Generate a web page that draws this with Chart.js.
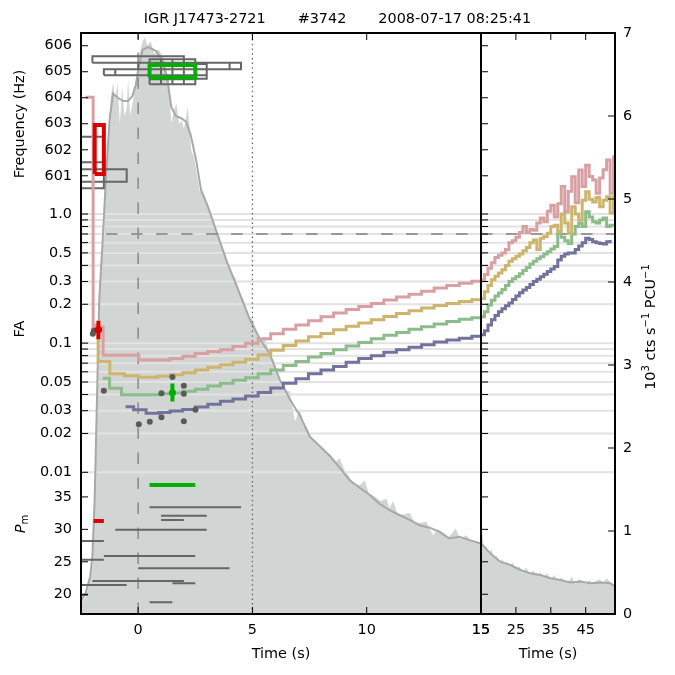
<!DOCTYPE html>
<html>
<head>
<style>
  body { margin: 0; background: #fff; }
  #wrap { width: 675px; height: 675px; }
</style>
</head>
<body>
<div id="wrap"><canvas id="chart" width="675" height="675"></canvas></div>
<script src="https://cdn.jsdelivr.net/npm/chart.js"></script>
<script>
// ---- axis ticks ----
const timeTicks = [0, 5, 10, 15];
const lateTimeTicks = [15, 25, 35, 45];
const freqTicks = [601, 602, 603, 604, 605, 606];
const faTickValues = [0.01, 0.02, 0.03, 0.05, 0.1, 0.2, 0.3, 0.5, 1.0];
const faTickLabels = ['0.01', '0.02', '0.03', '0.05', '0.1', '0.2', '0.3', '0.5', '1.0'];
const faGridValues = [0.01, 0.02, 0.03, 0.04, 0.05, 0.06, 0.07, 0.08, 0.09,
                      0.1, 0.2, 0.3, 0.4, 0.5, 0.6, 0.7, 0.8, 0.9, 1.0];
const pmTicks = [20, 25, 30, 35];
const rateTicks = [0, 1, 2, 3, 4, 5, 6, 7];

// ---- light curve (10^3 cts/s/PCU), raw and smoothed ----
const lcTime = [-2.5,-2.3,-2.15,-2.0,-1.9,-1.8,-1.72,-1.6,-1.48,-1.38,-1.3,-1.2,-1.1,-1.0,-0.9,-0.8,-0.7,-0.6,-0.5,-0.44,
  -0.35,-0.25,-0.15,-0.05,0.07,0.2,0.3,0.4,0.55,0.7,0.9,1.1,1.25,1.34,1.45,1.55,1.67,1.8,1.89,2.0,
  2.18,2.32,2.45,2.54,2.69,2.85,3.0,3.2,3.35,3.5,3.65,3.8,3.95,4.1,4.25,4.45,4.6,4.8,5.0,5.2,
  5.4,5.55,5.75,5.95,6.15,6.3,6.45,6.64,6.86,7.08,7.25,7.37,7.6,7.8,8.0,8.2,8.4,8.6,8.82,9.05,
  9.26,9.45,9.7,9.91,10.1,10.35,10.6,10.86,11.0,11.15,11.35,11.6,11.87,12.1,12.35,12.6,12.9,13.1,13.35,13.6,
  13.9,14.1,14.35,14.6,14.85,15.0];
const lcRate = [0.12,0.2,0.35,0.6,1.3,2.6,3.8,4.3,4.6,5.5,5.8,6.2,6.4,6.2,6.4,5.9,6.35,6.0,6.1,6.45,
  6.0,6.15,6.3,6.55,6.76,6.9,6.95,6.85,6.9,6.75,6.8,6.7,6.55,6.43,5.91,6.05,6.15,5.9,5.95,5.85,
  6.11,5.59,5.5,5.35,5.1,5.05,4.95,4.8,4.65,4.6,4.45,4.35,4.2,4.1,4.05,3.85,3.8,3.6,3.55,3.4,
  3.3,3.34,3.1,3.05,2.85,2.7,2.7,2.68,2.32,2.48,2.25,2.26,2.12,2.08,2.0,1.95,1.93,1.82,1.88,1.72,
  1.65,1.56,1.55,1.61,1.45,1.42,1.36,1.39,1.28,1.36,1.21,1.2,1.22,1.1,1.1,1.11,0.95,1.02,0.98,0.93,
  1.03,0.9,0.95,0.88,0.86,0.85];
const lcTimeLate = [15,15.3,15.8,16.5,17.2,18,18.8,19.5,20.3,21,21.8,22.5,23.3,24,25,26,27,28,29,30,
  31,32,33,34,35,36,37,38,39,40,41,42,43,44,45,46,47,48,49,50,51,52,53,53.4];
const lcRateLate = [0.85,1.0,0.8,0.82,0.72,0.78,0.68,0.7,0.62,0.66,0.6,0.63,0.57,0.62,0.55,0.57,0.5,0.56,0.48,0.52,
  0.47,0.5,0.45,0.49,0.42,0.47,0.4,0.44,0.4,0.38,0.45,0.36,0.42,0.4,0.36,0.41,0.37,0.4,0.42,0.38,
  0.43,0.39,0.36,0.32];
const smTime = [-2.5,-2.3,-2.1,-2.0,-1.9,-1.8,-1.7,-1.55,-1.4,-1.25,-1.1,-0.9,-0.65,-0.45,-0.25,-0.1,0.05,0.2,0.45,0.8,
  1.1,1.3,1.45,1.65,1.9,2.1,2.3,2.55,2.75,3.05,3.35,3.65,3.9,4.2,4.5,4.9,5.35,5.75,6.2,6.65,
  7.1,7.5,7.95,8.4,8.8,9.25,9.7,10.15,10.55,11.0,11.45,11.9,12.3,12.75,13.2,13.6,14.05,14.5,15.0];
const smRate = [0.15,0.25,0.45,0.7,1.4,2.6,3.8,4.5,5.3,5.95,6.27,6.22,6.18,6.18,6.24,6.38,6.62,6.8,6.83,6.78,
  6.65,6.4,6.11,6.0,5.97,5.93,5.77,5.45,5.11,4.91,4.67,4.43,4.23,4.03,3.82,3.54,3.3,3.14,2.82,2.58,
  2.38,2.14,2.02,1.9,1.77,1.61,1.52,1.43,1.33,1.25,1.19,1.13,1.07,1.04,0.99,0.91,0.93,0.89,0.85];
const smTimeLate = [15,17.7,20.5,23.4,26.3,29.1,32,34.9,37.7,40.6,43.5,46.3,49.2,52,53.4];
const smRateLate = [0.85,0.73,0.63,0.59,0.53,0.49,0.47,0.43,0.41,0.38,0.39,0.37,0.38,0.37,0.33];

// ---- FA step curves ----
const riseTimes = [1.4,1.95,2.5,3.05,3.6,4.15,4.7,5.25,5.8,6.35,6.9,7.45,8.0,8.55,9.1,9.65,10.2,10.75,11.3,11.85,12.4,12.95,13.5,14.05,14.6,15];
const pinkTime = [-2.3,-1.97,-1.53,0.03].concat(riseTimes);
const pinkFA = [8.0,0.133,0.0805,0.074,
  0.076,0.079,0.083,0.086,0.089,0.094,0.1,0.108,0.118,0.128,0.138,0.149,0.16,0.171,0.182,0.192,0.203,0.216,0.228,0.239,0.252,0.267,0.28,0.291,0.302,0.308];
const goldTime = [-1.97,-1.75,-1.24,-0.6,0.0,0.85].concat(riseTimes);
const goldFA = [0.138,0.072,0.058,0.056,0.0545,0.0555,
  0.057,0.059,0.062,0.065,0.068,0.071,0.075,0.081,0.088,0.096,0.104,0.112,0.119,0.127,0.135,0.143,0.152,0.161,0.17,0.178,0.187,0.196,0.203,0.21,0.217,0.222];
const greenTime = [-1.55,-1.25,-0.73,1.05].concat(riseTimes);
const greenFA = [0.0535,0.0447,0.0398,0.0405,
  0.0412,0.0425,0.044,0.0465,0.049,0.0515,0.054,0.058,0.062,0.067,0.072,0.078,0.083,0.089,0.095,0.101,0.108,0.115,0.121,0.128,0.134,0.141,0.147,0.153,0.157,0.16];
const blueTime = [-0.55,-0.2,0.35,0.9].concat(riseTimes);
const blueFA = [0.0322,0.0305,0.0287,0.029,
  0.0298,0.0307,0.032,0.0337,0.0355,0.037,0.039,0.0415,0.045,0.049,0.053,0.058,0.062,0.066,0.071,0.076,0.08,0.085,0.089,0.093,0.097,0.102,0.106,0.109,0.113,0.116];
const lateTimes = [15,16,17,18,19,20,21,22,23,24,25,26,27,28,29,30,31,32,33,34,
  35,36,37,38,39,40,41,42,43,44,45,46,47,48,49,50,51,52,53,53.4];
const pinkFALate = [0.308,0.34,0.38,0.42,0.46,0.48,0.5,0.53,0.6,0.62,0.66,0.72,0.8,0.72,0.76,0.75,0.85,0.93,0.87,1.05,
  1.17,0.95,1.2,1.63,1.04,1.5,1.94,1.22,2.19,1.63,2.39,1.95,1.83,1.45,1.9,2.2,2.62,1.45,2.78,2.78];
const goldFALate = [0.222,0.25,0.28,0.31,0.33,0.35,0.37,0.4,0.43,0.45,0.47,0.49,0.52,0.55,0.6,0.63,0.53,0.65,0.67,0.71,
  0.8,0.82,0.73,1.0,0.85,0.71,1.14,1.0,0.9,1.28,1.49,1.3,1.24,1.34,1.14,1.28,1.36,1.02,1.36,1.36];
const greenFALate = [0.16,0.175,0.197,0.215,0.232,0.245,0.26,0.28,0.3,0.315,0.328,0.345,0.365,0.385,0.41,0.43,0.45,0.467,0.49,0.51,
  0.535,0.56,0.71,0.66,0.62,0.59,0.7,0.8,0.85,0.8,1.04,0.95,0.87,0.85,0.9,0.93,0.8,0.82,0.82,0.82];
const blueFALate = [0.116,0.125,0.138,0.152,0.164,0.175,0.185,0.195,0.205,0.218,0.232,0.246,0.258,0.27,0.284,0.3,0.313,0.327,0.342,0.358,
  0.375,0.392,0.44,0.47,0.49,0.5,0.5,0.53,0.565,0.6,0.65,0.635,0.61,0.6,0.59,0.586,0.61,0.63];
const faThreshold = 0.7;

// ---- FA detections ----
const dotTime = [-1.98,-1.94,-1.5,1.02,1.5,2.0,2.0,2.51,0.03,0.51,1.02,2.0];
const dotFA = [0.118,0.125,0.0428,0.041,0.0546,0.0467,0.0405,0.0305,0.0236,0.0246,0.0267,0.0249];
const redErr = { t: -1.74, tLo: -1.9, tHi: -1.58, fa: 0.127, lo: 0.107, hi: 0.149 };
const greenErr = { t: 1.5, tLo: 1.38, tHi: 1.64, fa: 0.0413, lo: 0.0354, hi: 0.0487 };

// ---- frequency boxes (s, Hz) ----
const boxStart = [-2.0, 0.0, 4.0, -1.5, -1.5, 2.5, 0.5, 1.0, 1.5, 2.0, 0.5, -2.7, -2.7, -2.7];
const boxEnd   = [ 2.0, 4.5, 4.5,  3.0, -1.0, 3.0, 1.0, 1.5, 2.0, 2.5, 2.5, -1.5, -0.5, -1.5];
const boxLow   = [605.35, 605.10, 605.10, 604.87, 604.87, 604.73, 604.52, 604.52, 604.52, 604.52, 604.71, 600.52, 600.77, 601.52];
const boxHigh  = [605.60, 605.35, 605.35, 605.10, 605.10, 605.30, 605.48, 605.48, 605.48, 605.48, 604.87, 601.52, 601.25, 602.50];
const greenBox = [0.5, 2.5, 604.78, 605.26];
const redBox = [-1.9, -1.5, 601.07, 602.95];

// ---- P_m segments ----
const pmStart = [0.5, 1.0, 1.0, -1.0, -2.7, -1.5, -2.7, 0.0, -2.0, 1.5, -2.7, -2.7, 0.5];
const pmEnd   = [4.5, 3.0, 2.0,  3.0, -1.5,  2.5, -1.5, 4.0,  2.0, 2.5, -0.5, -2.2, 1.5];
const pmLevel = [33.4, 32.1, 31.45, 29.95, 28.2, 25.9, 25.3, 24.0, 22.05, 21.7, 21.43, 19.9, 18.77];
const pmGreen = [0.5, 2.5, 36.84];
const pmRed = [-1.95, -1.5, 31.3];

// ---- helpers ----
const FONT = 'DejaVu Sans';
Chart.defaults.font.family = FONT;
Chart.defaults.font.size = 14.4;
Chart.defaults.color = '#000';

function pts(xs, ys) { return ys.map((y, i) => ({ x: xs[i], y: y })); }
function segments(s, e, lv) {
  const out = [];
  s.forEach((_, i) => { out.push({ x: s[i], y: lv[i] }, { x: e[i], y: lv[i] }, { x: e[i], y: null }); });
  return out;
}
function rects(t0, t1, f0, f1) {
  const out = [];
  t0.forEach((_, i) => {
    out.push({ x: t0[i], y: f0[i] }, { x: t1[i], y: f0[i] }, { x: t1[i], y: f1[i] },
             { x: t0[i], y: f1[i] }, { x: t0[i], y: f0[i] }, { x: t0[i], y: null });
  });
  return out;
}
function line(xAxis, yAxis, data, color, width, order, extra) {
  return Object.assign({
    type: 'line', xAxisID: xAxis, yAxisID: yAxis, data: data,
    borderColor: color, backgroundColor: color, borderWidth: width,
    pointRadius: 0, fill: false, tension: 0, spanGaps: false, order: order,
    borderJoinStyle: 'miter'
  }, extra || {});
}

const PINK = '#d8a0a2', GOLD = '#cdb56e', GREEN = '#8cbc8a', BLUE = '#71739c';
const RED = '#dd0000', BGREEN = '#00b000', BOXGRAY = '#666666';
const FILL = '#d1d6d5', SMOOTH = '#a8a8a8', GRID = '#e2e2e2';
// FA curves leave the FA band, so only clip them left/right
const faClip = { left: 0, right: 0, top: false, bottom: false };
const step = { stepped: 'before', clip: faClip };

const datasets = [
  line('xL', 'yRate', pts(lcTime, lcRate), FILL, 0, 20, { fill: 'origin' }),
  line('xR', 'yRate', pts(lcTimeLate, lcRateLate), FILL, 0, 19, { fill: 'origin', drawGridAfter: true }),
  line('xL', 'yRate', pts(smTime, smRate), SMOOTH, 2, 18),
  line('xR', 'yRate', pts(smTimeLate, smRateLate), SMOOTH, 2, 18),
  line('xL', 'yRate', [{ x: 0, y: 0 }, { x: 0, y: 7 }], '#888888', 1.5, 16, { borderDash: [11.5, 13.5] }),
  line('xL', 'yRate', [{ x: 5, y: 0 }, { x: 5, y: 7 }], '#666666', 1.3, 16, { borderDash: [1.5, 3.2] }),
  line('xL', 'yFA', [{ x: -1.4, y: faThreshold }, { x: 15, y: faThreshold }], '#808080', 1.5, 16, { borderDash: [11.5, 13.5] }),
  line('xR', 'yFA', [{ x: 15, y: faThreshold }, { x: 53.4, y: faThreshold }], '#808080', 1.5, 16, { borderDash: [11.5, 13.5] }),
  line('xL', 'yPm', segments(pmStart, pmEnd, pmLevel), BOXGRAY, 2, 15),
  line('xL', 'yFreq', rects(boxStart, boxEnd, boxLow, boxHigh), BOXGRAY, 2, 15),
  line('xL', 'yFA', pts(blueTime, blueFA), BLUE, 3, 14, step),
  line('xR', 'yFA', pts(lateTimes, blueFALate), BLUE, 3, 14, step),
  line('xL', 'yFA', pts(greenTime, greenFA), GREEN, 3, 13, step),
  line('xR', 'yFA', pts(lateTimes, greenFALate), GREEN, 3, 13, step),
  line('xL', 'yFA', pts(goldTime, goldFA), GOLD, 3, 12, step),
  line('xR', 'yFA', pts(lateTimes, goldFALate), GOLD, 3, 12, step),
  line('xL', 'yFA', pts(pinkTime, pinkFA), PINK, 3, 11, step),
  line('xR', 'yFA', pts(lateTimes, pinkFALate), PINK, 3, 11, step),
  line('xL', 'yFA', pts(dotTime, dotFA), '#5a5a5a', 0, 10, { showLine: false, pointRadius: 3, pointBorderWidth: 0, clip: faClip }),
  line('xL', 'yFA', [{ x: redErr.t, y: redErr.lo }, { x: redErr.t, y: redErr.hi }, { x: redErr.t, y: null },
                     { x: redErr.tLo, y: redErr.fa }, { x: redErr.tHi, y: redErr.fa }], RED, 4, 9),
  line('xL', 'yFA', [{ x: redErr.t, y: redErr.fa }], RED, 0, 9, { showLine: false, pointRadius: 3.5 }),
  line('xL', 'yFA', [{ x: greenErr.t, y: greenErr.lo }, { x: greenErr.t, y: greenErr.hi }, { x: greenErr.t, y: null },
                     { x: greenErr.tLo, y: greenErr.fa }, { x: greenErr.tHi, y: greenErr.fa }], BGREEN, 4, 9),
  line('xL', 'yFA', [{ x: greenErr.t, y: greenErr.fa }], BGREEN, 0, 9, { showLine: false, pointRadius: 3.5 }),
  line('xL', 'yFreq', rects([greenBox[0]], [greenBox[1]], [greenBox[2]], [greenBox[3]]), BGREEN, 4, 9),
  line('xL', 'yFreq', rects([redBox[0]], [redBox[1]], [redBox[2]], [redBox[3]]), RED, 4, 9),
  line('xL', 'yPm', segments([pmGreen[0]], [pmGreen[1]], [pmGreen[2]]), BGREEN, 4, 9),
  line('xL', 'yPm', segments([pmRed[0]], [pmRed[1]], [pmRed[2]]), RED, 4, 9)
];

function setTicks(list) { return (scale) => { scale.ticks = list.map(v => ({ value: v })); }; }
const noGrid = { display: false, drawTicks: false };
const noBorder = { display: false };

function drawRich(ctx, parts, cx, cy) {
  let total = 0;
  parts.forEach(p => { ctx.font = p.font; total += ctx.measureText(p.text).width; });
  let x = cx - total / 2;
  parts.forEach(p => {
    ctx.font = p.font;
    ctx.fillText(p.text, x, cy + (p.dy || 0));
    x += ctx.measureText(p.text).width;
  });
}

const framePlugin = {
  id: 'frame',
  afterDatasetDraw(chart, args) {
    if (!chart.data.datasets[args.index].drawGridAfter) return;
    const { ctx, chartArea: a, scales: s } = chart;
    ctx.save();
    ctx.strokeStyle = GRID;
    ctx.lineWidth = 2;
    faGridValues.forEach(v => {
      const y = s.yFA.getPixelForValue(v);
      ctx.beginPath(); ctx.moveTo(a.left, y); ctx.lineTo(a.right, y); ctx.stroke();
    });
    ctx.restore();
  },
  afterDraw(chart) {
    const { ctx, chartArea: a, scales: s } = chart;
    const mid = s.xR.getPixelForValue(15);
    const L = 7;
    ctx.save();
    ctx.strokeStyle = '#000';
    ctx.lineWidth = 1;
    const tick = (x1, y1, x2, y2) => { ctx.beginPath(); ctx.moveTo(x1, y1); ctx.lineTo(x2, y2); ctx.stroke(); };
    [['yFreq', freqTicks], ['yFA', faGridValues], ['yPm', pmTicks]].forEach(([id, vals]) => {
      vals.forEach(v => {
        const y = s[id].getPixelForValue(v);
        tick(a.left, y, a.left + L, y);
        tick(mid, y, mid + L, y);
      });
    });
    rateTicks.forEach(v => { const y = s.yRate.getPixelForValue(v); tick(a.right - L, y, a.right, y); });
    [['xL', timeTicks], ['xR', lateTimeTicks]].forEach(([id, vals]) => {
      vals.forEach(v => {
        const x = s[id].getPixelForValue(v);
        tick(x, a.top, x, a.top + L);
        tick(x, a.bottom - L, x, a.bottom);
      });
    });
    ctx.lineWidth = 2;
    ctx.strokeRect(a.left, a.top, a.right - a.left, a.bottom - a.top);
    ctx.beginPath(); ctx.moveTo(mid, a.top); ctx.lineTo(mid, a.bottom); ctx.stroke();

    // axis titles
    ctx.fillStyle = '#000';
    ctx.textBaseline = 'middle';
    ctx.textAlign = 'left';
    const big = '14.4px "' + FONT + '"';
    const rot = (x, y, fn) => { ctx.save(); ctx.translate(x, y); ctx.rotate(-Math.PI / 2); fn(); ctx.restore(); };
    rot(20, 124, () => drawRich(ctx, [{ text: 'Frequency (Hz)', font: big }], 0, 0));
    rot(20, 329, () => drawRich(ctx, [{ text: 'FA', font: big }], 0, 0));
    rot(21, 524, () => drawRich(ctx, [{ text: 'P', font: 'italic 14.4px "' + FONT + '"' },
                                      { text: 'm', font: '10px "' + FONT + '"', dy: 4 }], 0, 0));
    const small = '10px "' + FONT + '"';
    rot(651, 327, () => drawRich(ctx, [
      { text: '10', font: big }, { text: '3', font: small, dy: -5 },
      { text: ' cts s', font: big }, { text: '\u22121', font: small, dy: -5 },
      { text: ' PCU', font: big }, { text: '\u22121', font: small, dy: -5 }
    ], 0, 0));
    ctx.restore();
  }
};

new Chart(document.getElementById('chart'), {
  type: 'line',
  data: { datasets: datasets },
  options: {
    responsive: false,
    animation: false,
    devicePixelRatio: 1,
    events: [],
    layout: { padding: 0 },
    plugins: {
      legend: { display: false },
      tooltip: { enabled: false },
      title: {
        display: true,
        text: 'IGR J17473-2721       #3742       2008-07-17 08:25:41',
        font: { size: 14.4, weight: 'normal' },
        color: '#000',
        padding: { top: 11, bottom: 4.72 }
      }
    },
    scales: {
      xL: {
        type: 'linear', position: 'bottom', stack: 'bottom', stackWeight: 400,
        min: -2.5, max: 15, bounds: 'data',
        afterBuildTicks: setTicks(timeTicks),
        afterFit: (sc) => { sc.height = 61; },
        ticks: { autoSkip: false, maxRotation: 0, minRotation: 0, padding: 8 },
        grid: noGrid, border: noBorder,
        title: { display: true, text: 'Time (s)', font: { size: 14.4 }, padding: { top: 4, bottom: 12 } }
      },
      xR: {
        type: 'linear', position: 'bottom', stack: 'bottom', stackWeight: 134,
        min: 15, max: 53.4, bounds: 'data',
        afterBuildTicks: setTicks(lateTimeTicks),
        afterFit: (sc) => { sc.height = 61; },
        ticks: { autoSkip: false, maxRotation: 0, minRotation: 0, padding: 8 },
        grid: noGrid, border: noBorder,
        title: { display: true, text: 'Time (s)', font: { size: 14.4 }, padding: { top: 4, bottom: 12 } }
      },
      yPm: {
        type: 'linear', position: 'left', stack: 'left', stackWeight: 141.7, weight: 1,
        min: 16.96, max: 38.79, bounds: 'data',
        afterBuildTicks: setTicks(pmTicks),
        afterFit: (sc) => { sc.width = 81; },
        ticks: { autoSkip: false, padding: 9 },
        grid: noGrid, border: noBorder
      },
      yFA: {
        type: 'logarithmic', position: 'left', stack: 'left', stackWeight: 258.3, weight: 2,
        min: 0.01, max: 1.0, bounds: 'data',
        afterBuildTicks: setTicks(faGridValues),
        afterFit: (sc) => { sc.width = 81; },
        ticks: {
          autoSkip: false, padding: 9,
          callback: (v) => { const i = faTickValues.indexOf(v); return i >= 0 ? faTickLabels[i] : ''; }
        },
        grid: noGrid, border: noBorder
      },
      yFreq: {
        type: 'linear', position: 'left', stack: 'left', stackWeight: 181, weight: 3,
        min: 599.53, max: 606.49, bounds: 'data',
        afterBuildTicks: setTicks(freqTicks),
        afterFit: (sc) => { sc.width = 81; },
        ticks: { autoSkip: false, padding: 9, callback: (v) => String(v) },
        grid: noGrid, border: noBorder
      },
      yRate: {
        type: 'linear', position: 'right',
        min: 0, max: 7, bounds: 'data',
        afterBuildTicks: setTicks(rateTicks),
        afterFit: (sc) => { sc.width = 60; },
        ticks: { autoSkip: false, padding: 8 },
        grid: noGrid, border: noBorder
      }
    }
  },
  plugins: [framePlugin]
});
</script>
</body>
</html>
